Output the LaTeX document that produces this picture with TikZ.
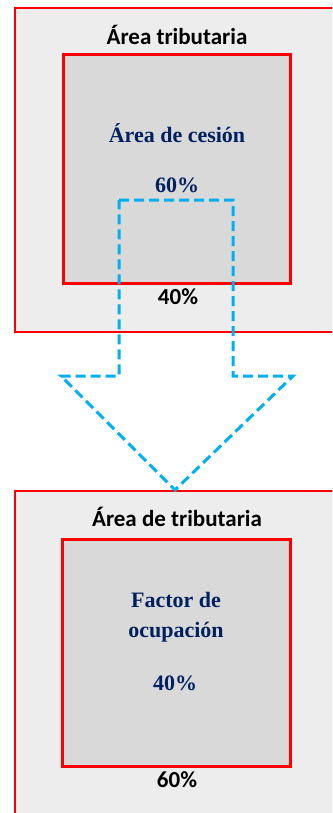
\documentclass[tikz,border=0pt]{standalone}
\usepackage{fontspec}
\setmainfont{Liberation Serif}
\newfontfamily\carl{Carlito}
\definecolor{outerfill}{HTML}{EDEDED}
\definecolor{innerfill}{HTML}{D9D9D9}
\definecolor{navy}{HTML}{002060}
\definecolor{skyblue}{HTML}{00B0F0}
\tikzset{
  outerbox/.style={draw=red, line width=1.2pt, fill=outerfill},
  innerbox/.style={draw=red, line width=3pt, fill=innerfill},
  sanslabel/.style={font=\carl\bfseries\fontsize{23}{26}\selectfont, text=black, inner sep=0pt},
  seriflabel/.style={font=\bfseries\fontsize{22}{30}\selectfont, text=navy, inner sep=0pt, align=center},
  arrowline/.style={draw=skyblue, line width=3pt, dash pattern=on 10pt off 5pt}
}
\begin{document}
\begin{tikzpicture}[x=1pt,y=-1pt]
\useasboundingbox (0,0) rectangle (332,813);
\clip (0,0) rectangle (332,813);
\fill[white] (0,0) rectangle (332,813);
% top panel
\draw[outerbox] (15,8) rectangle (345,332);
\draw[innerbox] (63,55) rectangle (290,283);
\node[sanslabel] (t1) at (177,35) {Área tributaria};
\node[seriflabel] (c1) at (177,133) {Área de cesión};
\node[seriflabel] (p1) at (177,185) {60\%};
\node[sanslabel] (q1) at (178,297) {40\%};
% bottom panel
\draw[outerbox] (15,491) rectangle (345,830);
\draw[innerbox] (62,539) rectangle (290,766);
\node[sanslabel] (t2) at (177,517) {Área de tributaria};
\node[seriflabel] (c2) at (176,617) {Factor de\\ocupación};
\node[seriflabel] (p2) at (175,683) {40\%};
\node[sanslabel] (q2) at (177,780) {60\%};
% dashed arrow
\coordinate (a1) at (119,200);
\coordinate (a2) at (233,200);
\coordinate (a3) at (233,376);
\coordinate (a4) at (293,376);
\coordinate (a5) at (175,490);
\coordinate (a6) at (61,376);
\coordinate (a7) at (119,376);
\draw[arrowline] (a1) -- (a2) -- (a3) -- (a4) -- (a5) -- (a6) -- (a7) -- cycle;
\end{tikzpicture}
\end{document}
